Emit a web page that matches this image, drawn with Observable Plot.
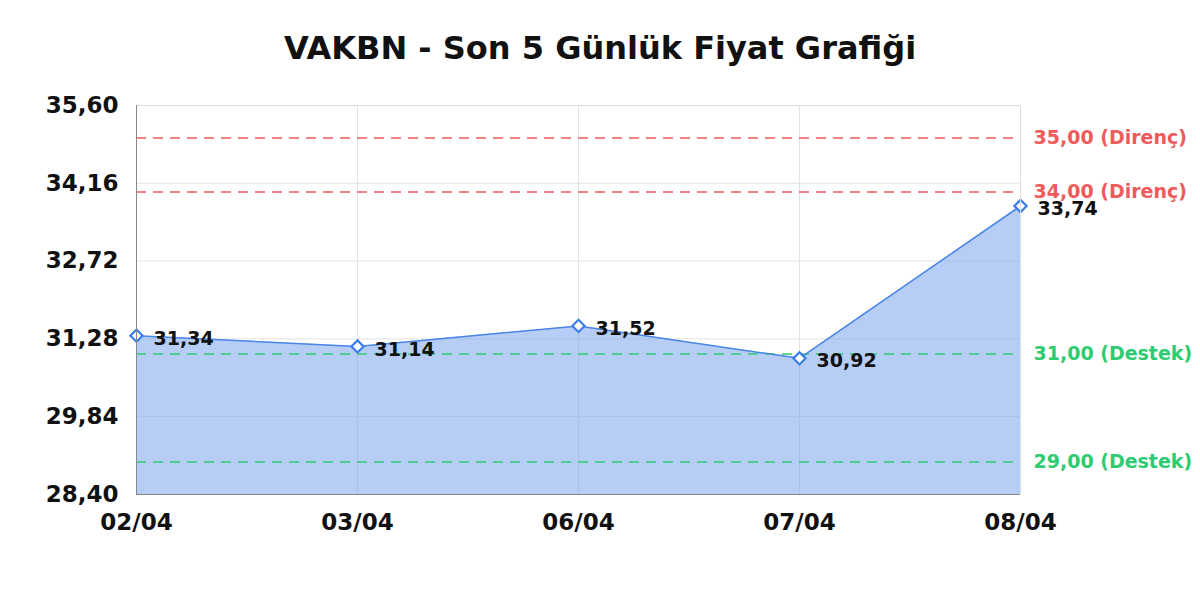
<!DOCTYPE html>
<html>
<head>
<meta charset="utf-8">
<script src="https://cdn.jsdelivr.net/npm/d3@7"></script>
<script src="https://cdn.jsdelivr.net/npm/@observablehq/plot@0.6"></script>
<style>
  html, body { margin: 0; padding: 0; background: #fff; }
  #title { height: 70px; padding-top: 13px; line-height: 70px; text-align: center; font-family: "DejaVu Sans", sans-serif; font-weight: bold; font-size: 32px; color: #111; white-space: nowrap; }
</style>
</head>
<body>
<div id="title">VAKBN - Son 5 Günlük Fiyat Grafiği</div>
<div id="chart"></div>
<script>
const dates = ["02/04", "03/04", "06/04", "07/04", "08/04"];
const prices = [31.34, 31.14, 31.52, 30.92, 33.74];
const yTicks = [28.40, 29.84, 31.28, 32.72, 34.16, 35.60];
const resistance = [35.00, 34.00];
const support = [31.00, 29.00];

const fmt = d => d.toFixed(2).replace(".", ",");
const data = dates.map((d, i) => ({date: d, price: prices[i]}));
const levels = [
  ...resistance.map(v => ({v, label: fmt(v) + " (Direnç)", color: "#ef5a5a"})),
  ...support.map(v => ({v, label: fmt(v) + " (Destek)", color: "#2ecc71"}))
];
const yMin = yTicks[0], yMax = yTicks[yTicks.length - 1];

const chart = Plot.plot({
  width: 1200,
  height: 517,
  marginTop: 22,
  marginBottom: 106,
  marginLeft: 136,
  marginRight: 180,
  style: {fontFamily: "DejaVu Sans, sans-serif", background: "#fff"},
  x: {type: "point", domain: dates, padding: 0},
  y: {domain: [yMin, yMax]},
  marks: [
    Plot.ruleX(dates, {stroke: "#e4e4e4", strokeWidth: 1}),
    Plot.ruleY(yTicks, {stroke: "#e4e4e4", strokeWidth: 1}),
    Plot.areaY(data, {x: "date", y1: yMin, y2: "price", fill: "#6d9eeb", fillOpacity: 0.5}),
    Plot.ruleY(levels, {y: "v", stroke: "color", strokeWidth: 1.5, strokeDasharray: "10,7"}),
    Plot.text(levels, {y: "v", text: "label", fill: "color", frameAnchor: "right", textAnchor: "start", dx: 13, fontSize: 19, fontWeight: "bold"}),
    Plot.line(data, {x: "date", y: "price", stroke: "#4a86e8", strokeWidth: 1.5}),
    Plot.dot(data, {x: "date", y: "price", symbol: "diamond2", r: 5.5, fill: "#fff", stroke: "#3b7de9", strokeWidth: 2.2}),
    Plot.text(data, {x: "date", y: "price", text: d => fmt(d.price), textAnchor: "start", dx: 17, dy: 3, fontSize: 19, fontWeight: "bold", fill: "#111"}),
    Plot.ruleX([dates[dates.length - 1]], {stroke: "#dddddd"}),
    Plot.ruleY([yMax], {stroke: "#dddddd"}),
    Plot.ruleX([dates[0]], {stroke: "#888"}),
    Plot.ruleY([yMin], {stroke: "#888"}),
    Plot.axisY({ticks: yTicks, tickFormat: fmt, tickSize: 0, tickPadding: 18, fontSize: 23, fontWeight: "bold", label: null, fill: "#111"}),
    Plot.axisX({tickSize: 0, tickPadding: 19, fontSize: 23, fontWeight: "bold", label: null, fill: "#111"})
  ]
});
document.getElementById("chart").appendChild(chart);
</script>
</body>
</html>
